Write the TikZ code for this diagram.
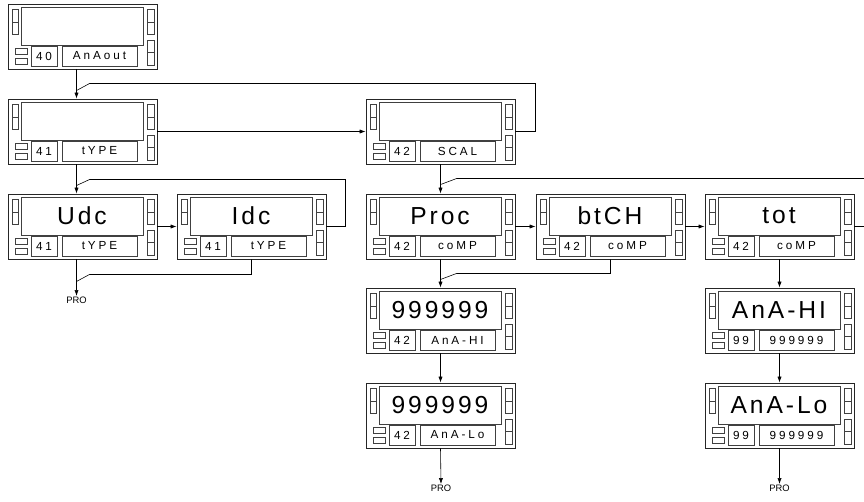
\documentclass[tikz,border=0pt]{standalone}
\usepackage{fontspec}
\setmainfont{Liberation Sans}
\newfontfamily\lcdfont[LetterSpace=12]{Liberation Sans}
\newfontfamily\keyfont[LetterSpace=25]{Liberation Sans}
\usepackage{tikz}
\usetikzlibrary{arrows.meta,positioning,calc}

\tikzset{
  outerbox/.style={draw=black!85,line width=0.8pt,minimum width=4.47cm,minimum height=1.95cm,inner sep=0pt},
  part/.style={draw=black!75,line width=0.5pt},
  codebox/.style={part,minimum width=0.78cm,minimum height=0.6cm,inner sep=0pt,font=\keyfont\fontsize{10}{10}\selectfont},
  labelbox/.style={part,minimum width=2.25cm,minimum height=0.6cm,inner sep=0pt,font=\keyfont\fontsize{10}{10}\selectfont},
  bigtext/.style={font=\lcdfont\fontsize{21}{21}\selectfont,inner sep=0pt},
  wire/.style={line width=0.5pt},
  arr/.style={wire,-{Latex[length=5pt,width=3.5pt]}},
  protext/.style={font=\fontsize{8}{8}\selectfont,inner sep=1pt}
}

% one panel: name, x, y (top left, px), display, code, label
\newcommand{\panel}[6]{%
  \begin{scope}[shift={(#2,#3)}]
    \node[outerbox] (#1) at (74.5,32.5) {};
    \draw[part] (13,3) rectangle (135,41);
    \draw[part] (4,5) rectangle (10,18) (4,18) rectangle (10,30);
    \draw[part] (139,5) rectangle (146,18) (139,18) rectangle (146,30);
    \draw[part] (139,36) rectangle (146,48) (139,48) rectangle (146,61);
    \draw[part] (7,44) rectangle (19,50) (7,54) rectangle (19,60);
    \node[bigtext] at (74,22) {#4};
    \node[codebox] (#1c) at (36,52) {#5};
    \node[labelbox] (#1l) at (91.5,52) {#6};
  \end{scope}}

\begin{document}
\begin{tikzpicture}[x=0.03cm,y=-0.03cm]
    \path[use as bounding box,clip] (0,0) rectangle (864,501);

    % Panels
    \panel{panAout}{8}{4}{}{40}{AnAout}
    \panel{panType}{8}{99}{}{41}{tYPE}
    \panel{panScal}{366}{99}{}{42}{SCAL}
    \panel{panUdc}{8}{194}{Udc}{41}{tYPE}
    \panel{panIdc}{177}{194}{Idc}{41}{tYPE}
    \panel{panProc}{366}{194}{Proc}{42}{coMP}
    \panel{panBtch}{536}{194}{btCH}{42}{coMP}
    \panel{panTot}{705}{194}{tot}{42}{coMP}
    \panel{panHi}{366}{288}{999999}{42}{AnA-HI}
    \panel{panLo}{366}{383}{999999}{42}{AnA-Lo}
    \panel{panAhi}{705}{288}{AnA-HI}{99}{999999}
    \panel{panAlo}{705}{383}{AnA-Lo}{99}{999999}

    % Exits
    \node[protext,anchor=north] (proA) at (76.5,296) {PRO};
    \node[protext,anchor=north] (proB) at (441,484) {PRO};
    \node[protext,anchor=north] (proC) at (779.5,484) {PRO};

    % Left column
    \draw[arr] ($(panAout.south)+(-6,0)$) -- ($(panType.north)+(-6,0)$);
    \draw[wire] (panScal.east) -- ++(20,0) |- ($(panType.north)+(7,-15)$) -- ($(panType.north)+(-6,-8)$);
    \draw[arr] ($(panType.south)+(-6,0)$) -- ($(panUdc.north)+(-6,0)$);
    \draw[wire] (panIdc.east) -- ++(19,0) |- ($(panUdc.north)+(7,-14)$) -- ($(panUdc.north)+(-6,-8)$);
    \draw[arr] (panUdc.east) -- (panIdc.west);
    \draw[arr] ($(panUdc.south)+(-6,0)$) -- (proA.north);
    \draw[wire] (panIdc.south) |- ($(panUdc.south)+(7,15)$) -- ($(panUdc.south)+(-6,22)$);

    % Scaling
    \draw[arr] (panType.east) -- (panScal.west);
    \draw[arr] (panScal.south) -- (panProc.north);
    \draw[wire] (panTot.east) -- ++(20,0) |- ($(panProc.north)+(16,-15)$) -- ($(panProc.north)+(0,-9)$);
    \draw[arr] (panProc.east) -- (panBtch.west);
    \draw[arr] (panBtch.east) -- (panTot.west);
    \draw[wire] (panBtch.south) |- ($(panProc.south)+(16,14)$) -- ($(panProc.south)+(0,20)$);

    % Ranges
    \draw[arr] (panProc.south) -- (panHi.north);
    \draw[arr] (panHi.south) -- (panLo.north);
    \draw[arr] (panLo.south) -- (proB.north);
    \draw[arr] (panTot.south) -- (panAhi.north);
    \draw[arr] (panAhi.south) -- (panAlo.north);
    \draw[arr] (panAlo.south) -- (proC.north);
\end{tikzpicture}
\end{document}
